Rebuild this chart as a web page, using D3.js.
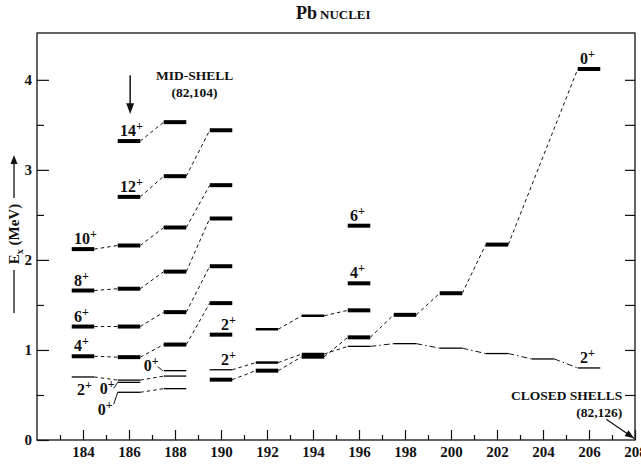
<!DOCTYPE html>
<html>
<head>
<meta charset="utf-8">
<script src="https://cdn.jsdelivr.net/npm/d3@7"></script>
<style>
  body { margin: 0; background: #fff; }
  svg { display: block; }
  svg text { font-family: "Liberation Serif", "Times New Roman", "DejaVu Serif", serif; font-weight: bold; fill: #111; }
</style>
</head>
<body>
<svg width="641" height="466"></svg>
<script>
// level energies [A, Ex(MeV)]
const thickLevels = [
  [184, 2.12], [184, 1.66], [184, 1.26], [184, 0.93],
  [186, 3.32], [186, 2.70], [186, 2.16], [186, 1.68], [186, 1.26], [186, 0.92],
  [188, 3.53], [188, 2.93], [188, 2.36], [188, 1.87], [188, 1.42], [188, 1.06],
  [190, 3.44], [190, 2.83], [190, 2.46], [190, 1.93], [190, 1.52], [190, 1.17], [190, 0.67],
  [192, 0.77], [194, 0.925],
  [196, 2.38], [196, 1.74], [196, 1.44], [196, 1.14],
  [198, 1.39], [200, 1.63], [202, 2.17], [206, 4.12]
];
const mediumLevels = [[192, 1.23], [194, 1.38], [192, 0.86], [194, 0.955]];
const thinLevels = [
  [184, 0.70], [186, 0.665], [186, 0.64], [186, 0.53],
  [188, 0.77], [188, 0.71], [188, 0.57], [190, 0.78],
  [196, 1.04], [198, 1.07], [200, 1.02], [202, 0.96], [204, 0.90], [206, 0.80]
];

// level systematics joined by dashed lines
const dashedChains = [
  [[186, 3.32], [188, 3.53]],
  [[186, 2.70], [188, 2.93], [190, 3.44]],
  [[184, 2.12], [186, 2.16], [188, 2.36], [190, 2.83]],
  [[184, 1.66], [186, 1.68], [188, 1.87], [190, 2.46]],
  [[184, 1.26], [186, 1.26], [188, 1.42], [190, 1.93]],
  [[184, 0.93], [186, 0.92], [188, 1.06], [190, 1.52]],
  [[184, 0.70], [186, 0.665], [188, 0.71]],
  [[186, 0.53], [188, 0.57]],
  [[190, 0.78], [192, 0.86], [194, 0.955], [196, 1.04]],
  [[190, 0.67], [192, 0.77], [194, 0.925], [196, 1.14], [198, 1.39], [200, 1.63], [202, 2.17], [206, 4.12]],
  [[192, 1.23], [194, 1.38], [196, 1.44]]
];
const dashDotChains = [
  [[196, 1.04], [198, 1.07], [200, 1.02], [202, 0.96], [204, 0.90], [206, 0.80]]
];

// spin labels (J, parity +)
const aboveLabels = [
  [184, 2.12, "10"], [184, 1.66, "8"], [184, 1.26, "6"], [184, 0.93, "4"],
  [186, 3.32, "14"], [186, 2.70, "12"],
  [190, 1.17, "2"], [190, 0.78, "2"],
  [196, 2.38, "6"], [196, 1.74, "4"],
  [206, 4.12, "0"], [206, 0.80, "2"]
];
const belowLabels = [[184, 0.70, "2"]];
const leaderLabels = [[186, 0.64, "0"], [186, 0.53, "0"]];
const leftLabels = [[188, 0.77, "0"]];

const xTicks = d3.range(184, 209, 2);
const xMinorTicks = d3.range(183, 208, 2);
const yTicks = [0, 1, 2, 3, 4];
const yMinorTicks = [0.5, 1.5, 2.5, 3.5];

const svg = d3.select("svg");
const margin = { left: 37, right: 635, top: 33, bottom: 440 };

const x = d3.scaleLinear().domain([182, 208]).range([margin.left, margin.right]);
const y = d3.scaleLinear().domain([0, 4.52]).range([margin.bottom, margin.top]);
const half = 0.49;

// title
const title = svg.append("text")
  .attr("x", 296).attr("y", 19);
title.append("tspan").attr("font-size", 18).text("Pb");
title.append("tspan").attr("font-size", 13).attr("dx", 3).text("NUCLEI");

// frame
svg.append("rect")
  .attr("x", margin.left).attr("y", margin.top)
  .attr("width", margin.right - margin.left).attr("height", margin.bottom - margin.top)
  .attr("fill", "none").attr("stroke", "#111").attr("stroke-width", 1.3);

// axes
svg.append("g")
  .attr("transform", `translate(0,${margin.bottom})`)
  .call(d3.axisBottom(x).tickValues(xTicks).tickSizeInner(-10).tickSizeOuter(0).tickPadding(6).tickFormat(d3.format("d")));
svg.append("g")
  .attr("transform", `translate(0,${margin.bottom})`)
  .call(d3.axisBottom(x).tickValues(xMinorTicks).tickSizeInner(-5).tickSizeOuter(0).tickFormat(""));

svg.append("g")
  .attr("transform", `translate(${margin.left},0)`)
  .call(d3.axisLeft(y).tickValues(yTicks).tickSizeInner(-12).tickSizeOuter(0).tickPadding(5).tickFormat(d3.format("d")));
svg.append("g")
  .attr("transform", `translate(${margin.left},0)`)
  .call(d3.axisLeft(y).tickValues(yMinorTicks).tickSizeInner(-7).tickSizeOuter(0).tickFormat(""));
svg.append("g")
  .attr("transform", `translate(${margin.right},0)`)
  .call(d3.axisRight(y).tickValues(yTicks.concat(yMinorTicks).filter(d => d > 0)).tickSizeInner(-10).tickSizeOuter(0).tickFormat(""));

svg.selectAll(".domain").remove();
svg.selectAll(".tick line").attr("stroke", "#111").attr("stroke-width", 1.2);
svg.selectAll(".tick text").attr("font-size", 15);

// y axis title
const yl = svg.append("g").attr("transform", "translate(14,234) rotate(-90)");
const ylt = yl.append("text").attr("text-anchor", "middle").attr("y", 5).attr("font-size", 15);
ylt.append("tspan").text("E");
ylt.append("tspan").attr("font-size", 10).attr("dy", 4).text("x");
ylt.append("tspan").attr("dy", -4).text(" (MeV)");
yl.append("line").attr("x1", 36).attr("x2", 76).attr("y1", 0).attr("y2", 0)
  .attr("stroke", "#111").attr("stroke-width", 1.3);
yl.append("path").attr("d", "M79,0 L70,-3.5 L70,3.5 Z").attr("fill", "#111");
yl.append("line").attr("x1", -36).attr("x2", -79).attr("y1", 0).attr("y2", 0)
  .attr("stroke", "#111").attr("stroke-width", 1.3);

// connecting lines
function chainSegments(chain) {
  const segs = [];
  for (let i = 1; i < chain.length; i++) {
    segs.push([chain[i - 1], chain[i]]);
  }
  return segs;
}
function drawChains(chains, dash) {
  svg.append("g").selectAll("line")
    .data(chains.flatMap(chainSegments))
    .join("line")
    .attr("x1", d => x(d[0][0] + half))
    .attr("y1", d => y(d[0][1]))
    .attr("x2", d => x(d[1][0] - half))
    .attr("y2", d => y(d[1][1]))
    .attr("stroke", "#111")
    .attr("stroke-width", 1)
    .attr("stroke-dasharray", dash);
}
drawChains(dashedChains, "3.5,3");
drawChains(dashDotChains, "6,3,1.5,3");

// levels
function drawLevels(levels, w) {
  svg.append("g").selectAll("line")
    .data(levels)
    .join("line")
    .attr("x1", d => x(d[0] - half))
    .attr("x2", d => x(d[0] + half))
    .attr("y1", d => y(d[1]))
    .attr("y2", d => y(d[1]))
    .attr("stroke", "#000")
    .attr("stroke-width", w);
}
drawLevels(thickLevels, 4);
drawLevels(mediumLevels, 2.5);
drawLevels(thinLevels, 1.3);

// spin labels
function spin(sel, j) {
  sel.append("tspan").text(j);
  sel.append("tspan").attr("font-size", 12).attr("dy", -6).text("+");
}
const labels = svg.append("g").attr("font-size", 16);
aboveLabels.forEach(d => {
  const dx = d[0] === 190 ? 0 : -9;
  labels.append("text")
    .attr("x", x(d[0]) + dx)
    .attr("y", y(d[1]) - 5)
    .call(spin, d[2]);
});
belowLabels.forEach(d => {
  labels.append("text")
    .attr("x", x(d[0]) - 6)
    .attr("y", y(d[1]) + 18)
    .call(spin, d[2]);
});
leaderLabels.forEach((d, i) => {
  const bx = x(d[0] - half), by = y(d[1]);
  labels.append("text")
    .attr("x", bx - 18 - i * 2)
    .attr("y", by + 12 + i * 11)
    .call(spin, d[2]);
  labels.append("path")
    .attr("d", `M${bx - 4},${by + 6 + i * 6} L${bx},${by}`)
    .attr("stroke", "#111").attr("fill", "none").attr("stroke-width", 1);
});
leftLabels.forEach(d => {
  const bx = x(d[0] - half), by = y(d[1]);
  labels.append("text")
    .attr("x", bx - 20)
    .attr("y", by)
    .call(spin, d[2]);
  labels.append("path")
    .attr("d", `M${bx - 6},${by - 4} L${bx - 1},${by}`)
    .attr("stroke", "#111").attr("fill", "none").attr("stroke-width", 1);
});

// annotations
const ann = svg.append("g").attr("font-size", 13.5);
ann.append("text").attr("x", x(188.85)).attr("y", y(4.0)).attr("text-anchor", "middle").text("MID-SHELL");
ann.append("text").attr("x", x(188.85)).attr("y", y(3.81)).attr("text-anchor", "middle").text("(82,104)");
ann.append("line")
  .attr("x1", x(186.05)).attr("x2", x(186.05))
  .attr("y1", y(4.05)).attr("y2", y(3.72))
  .attr("stroke", "#111").attr("stroke-width", 1.5);
ann.append("path")
  .attr("d", `M${x(186.05)},${y(3.62)} L${x(186.05) - 4},${y(3.74)} L${x(186.05) + 4},${y(3.74)} Z`)
  .attr("fill", "#111");

ann.append("text").attr("x", x(207.45)).attr("y", y(0.445)).attr("text-anchor", "end").text("CLOSED SHELLS");
ann.append("text").attr("x", x(207.45)).attr("y", y(0.255)).attr("text-anchor", "end").text("(82,126)");
const ax1 = x(206.75), ay1 = y(0.23), ax2 = x(208) - 1, ay2 = y(0.02);
ann.append("line")
  .attr("x1", ax1).attr("y1", ay1).attr("x2", ax2).attr("y2", ay2)
  .attr("stroke", "#111").attr("stroke-width", 1.2);
const ang = Math.atan2(ay2 - ay1, ax2 - ax1) * 180 / Math.PI;
ann.append("path")
  .attr("d", "M0,0 L-9,-3.5 L-9,3.5 Z")
  .attr("transform", `translate(${ax2},${ay2}) rotate(${ang})`)
  .attr("fill", "#111");
</script>
</body>
</html>
